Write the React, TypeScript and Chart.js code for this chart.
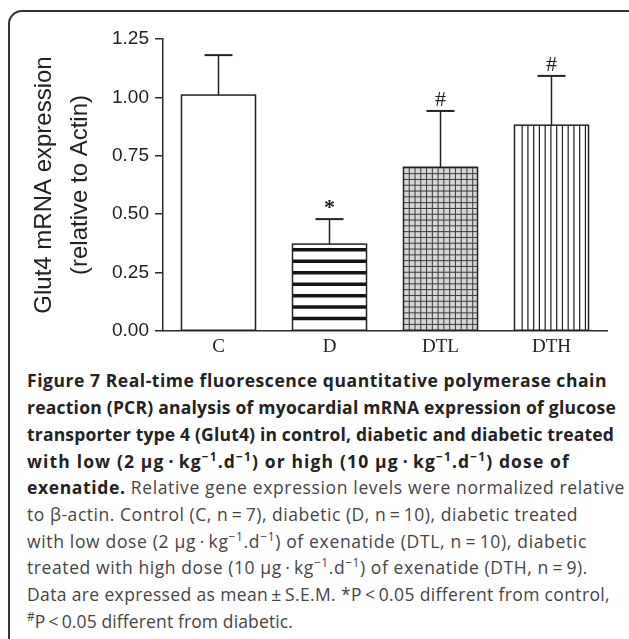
import React, { useEffect, useLayoutEffect, useRef } from "react";
import { Chart, registerables } from "chart.js";

Chart.register(...registerables);

const categories = ["C", "D", "DTL", "DTH"];
const meanValues = [1.01, 0.372, 0.701, 0.881];
const semValues = [0.171, 0.107, 0.241, 0.211];
const markers = ["", "*", "#", "#"];
const patterns = ["none", "hstripes", "grid", "vlines"];
const fills = ["#ffffff", "#ffffff", "#d6d6d6", "#ffffff"];
const yTicks = [0, 0.25, 0.5, 0.75, 1.0, 1.25];
const yTitle = ["Glut4 mRNA expression", "(relative to Actin)"];

const AXIS = "#2a2a2a";

// layout: right edge (px) of each caption line in the figure
const CAPTION_LEFT = 27;
const captionRightEdges = [607, 616, 614, 570, 625, 578, 587, 588, 610, 293];

const decorPlugin = {
  id: "decor",
  afterDatasetsDraw(chart: any) {
    const ctx = chart.ctx as CanvasRenderingContext2D;
    const meta = chart.getDatasetMeta(0);
    const yScale = chart.scales.y;
    meta.data.forEach((el: any, i: number) => {
      const { x, y, base, width } = el.getProps(["x", "y", "base", "width"], true);
      const l = x - width / 2;
      const r = x + width / 2;
      const t = y;
      const b = base;
      ctx.save();
      ctx.beginPath();
      ctx.rect(l, t, r - l, b - t);
      ctx.clip();
      const kind = patterns[i];
      ctx.beginPath();
      if (kind === "hstripes") {
        ctx.lineWidth = 3.5;
        ctx.strokeStyle = "#141414";
        for (let yy = b - 11.7; yy > t + 1; yy -= 11.45) {
          ctx.moveTo(l, yy);
          ctx.lineTo(r, yy);
        }
      } else if (kind === "grid") {
        ctx.lineWidth = 1;
        ctx.strokeStyle = "#3a3a3a";
        for (let xx = l + 5.77; xx < r; xx += 5.77) {
          ctx.moveTo(xx, t);
          ctx.lineTo(xx, b);
        }
        for (let yy = b - 5.8; yy > t; yy -= 5.8) {
          ctx.moveTo(l, yy);
          ctx.lineTo(r, yy);
        }
      } else if (kind === "vlines") {
        ctx.lineWidth = 1.2;
        ctx.strokeStyle = "#1e1e1e";
        for (let xx = l + 7.7; xx < r - 2; xx += 5.75) {
          ctx.moveTo(xx, t);
          ctx.lineTo(xx, b);
        }
      }
      ctx.stroke();
      ctx.restore();

      ctx.save();
      ctx.lineWidth = 1.5;
      ctx.strokeStyle = "#222";
      ctx.strokeRect(l, t, r - l, b - t);

      const top = yScale.getPixelForValue(meanValues[i] + semValues[i]);
      ctx.beginPath();
      ctx.lineWidth = 1.5;
      ctx.moveTo(x, t);
      ctx.lineTo(x, top);
      ctx.stroke();
      ctx.beginPath();
      ctx.lineWidth = 2;
      ctx.moveTo(x - 14, top);
      ctx.lineTo(x + 14, top);
      ctx.stroke();

      if (markers[i]) {
        ctx.fillStyle = "#222";
        ctx.font = (markers[i] === "*" ? "bold " : "") + '22px "Liberation Serif", "Times New Roman", serif';
        ctx.textAlign = "center";
        ctx.textBaseline = "alphabetic";
        ctx.fillText(markers[i], x, top - 5);
      }
      ctx.restore();
    });
  },
};

function Sup({ children }: { children: React.ReactNode }) {
  return (
    <sup style={{ fontSize: "0.68em", lineHeight: 0, verticalAlign: "0.55em" }}>{children}</sup>
  );
}

const thin = "\u2009";
const BOLD: React.CSSProperties = { fontWeight: 700, color: "#222" };

export default function App() {
  const ref = useRef<HTMLCanvasElement>(null);
  const lineRefs = useRef<(HTMLSpanElement | null)[]>([]);

  useLayoutEffect(() => {
    const fit = () => {
      lineRefs.current.forEach((el, i) => {
        if (!el) return;
        el.style.letterSpacing = "0px";
        const w = el.getBoundingClientRect().width;
        const n = (el.textContent || "").length;
        const target = captionRightEdges[i] - CAPTION_LEFT;
        el.style.letterSpacing = ((target - w) / n).toFixed(3) + "px";
      });
    };
    fit();
    if ((document as any).fonts && (document as any).fonts.ready) {
      (document as any).fonts.ready.then(fit);
    }
  }, []);

  useEffect(() => {
    const canvas = ref.current!;
    const chart = new Chart(canvas, {
      type: "bar",
      data: {
        labels: categories,
        datasets: [
          {
            data: meanValues,
            backgroundColor: fills,
            borderWidth: 0,
            barPercentage: 0.667,
            categoryPercentage: 1,
          },
        ],
      },
      options: {
        responsive: false,
        animation: false,
        layout: { padding: { left: 26, top: 39, right: 22, bottom: 0 } },
        plugins: { legend: { display: false }, tooltip: { enabled: false } },
        scales: {
          x: {
            type: "category",
            offset: true,
            grid: { display: true, drawOnChartArea: false, drawTicks: false },
            border: { display: true, color: AXIS, width: 1.5 },
            ticks: {
              font: { family: '"Liberation Serif", "Times New Roman", serif', size: 19 },
              color: "#222",
              padding: 5,
            },
            afterFit: (s: any) => {
              s.height = 30;
            },
          },
          y: {
            min: 0,
            max: 1.25,
            afterBuildTicks: (s: any) => {
              s.ticks = yTicks.map((v) => ({ value: v }));
            },
            ticks: {
              callback: (v: any) => Number(v).toFixed(2),
              font: { family: '"Liberation Sans", Arial, sans-serif', size: 19 },
              color: "#222",
              padding: 6,
            },
            grid: {
              drawOnChartArea: false,
              drawTicks: true,
              tickLength: 8,
              color: AXIS,
              lineWidth: 1.5,
            },
            border: { display: true, color: AXIS, width: 1.5 },
            title: {
              display: true,
              text: yTitle,
              font: { family: '"Liberation Sans", Arial, sans-serif', size: 24, lineHeight: 1.5 },
              color: "#222",
              padding: 0,
            },
            afterFit: (s: any) => {
              s.width = 137;
            },
          },
        },
      },
      plugins: [decorPlugin],
    } as any);
    return () => chart.destroy();
  }, []);

  const kg = (
    <>
      µg{thin}·{thin}kg<Sup>−1</Sup>.d<Sup>−1</Sup>
    </>
  );

  const lines: React.ReactNode[] = [
    <span style={BOLD}>Figure 7 Real-time fluorescence quantitative polymerase chain</span>,
    <span style={BOLD}>reaction (PCR) analysis of myocardial mRNA expression of glucose</span>,
    <span style={BOLD}>transporter type 4 (Glut4) in control, diabetic and diabetic treated</span>,
    <span style={BOLD}>
      with low (2 {kg}) or high (10 {kg}) dose of
    </span>,
    <>
      <span style={BOLD}>exenatide.</span> Relative gene expression levels were normalized relative
    </>,
    <>
      to β-actin. Control (C, n{thin}={thin}7), diabetic (D, n{thin}={thin}10), diabetic treated
    </>,
    <>
      with low dose (2 {kg}) of exenatide (DTL, n{thin}={thin}10), diabetic
    </>,
    <>
      treated with high dose (10 {kg}) of exenatide (DTH, n{thin}={thin}9).
    </>,
    <>
      Data are expressed as mean{thin}±{thin}S.E.M. *P{thin}&lt;{thin}0.05 different from control,
    </>,
    <>
      <Sup>#</Sup>P{thin}&lt;{thin}0.05 different from diabetic.
    </>,
  ];

  return (
    <div
      style={{
        position: "absolute",
        left: 0,
        top: 0,
        width: 629,
        height: 639,
        overflow: "hidden",
        background: "#fff",
      }}
    >
      <div
        style={{
          position: "absolute",
          left: 8,
          top: 10,
          width: 640,
          height: 650,
          border: "2px solid #333",
          borderRadius: 14,
          boxSizing: "border-box",
        }}
      />
      <canvas
        ref={ref}
        width={629}
        height={361}
        style={{ position: "absolute", left: 0, top: 0, width: 629, height: 361 }}
      />
      <div
        style={{
          position: "absolute",
          left: CAPTION_LEFT,
          top: 367.4,
          fontFamily: '"Open Sans", "Noto Sans", sans-serif',
          fontSize: 17.5,
          lineHeight: "26.7px",
          color: "#444",
          whiteSpace: "nowrap",
        }}
      >
        {lines.map((ln, i) => (
          <div key={i}>
            <span
              ref={(el) => {
                lineRefs.current[i] = el;
              }}
              style={{ display: "inline-block" }}
            >
              {ln}
            </span>
          </div>
        ))}
      </div>
    </div>
  );
}
